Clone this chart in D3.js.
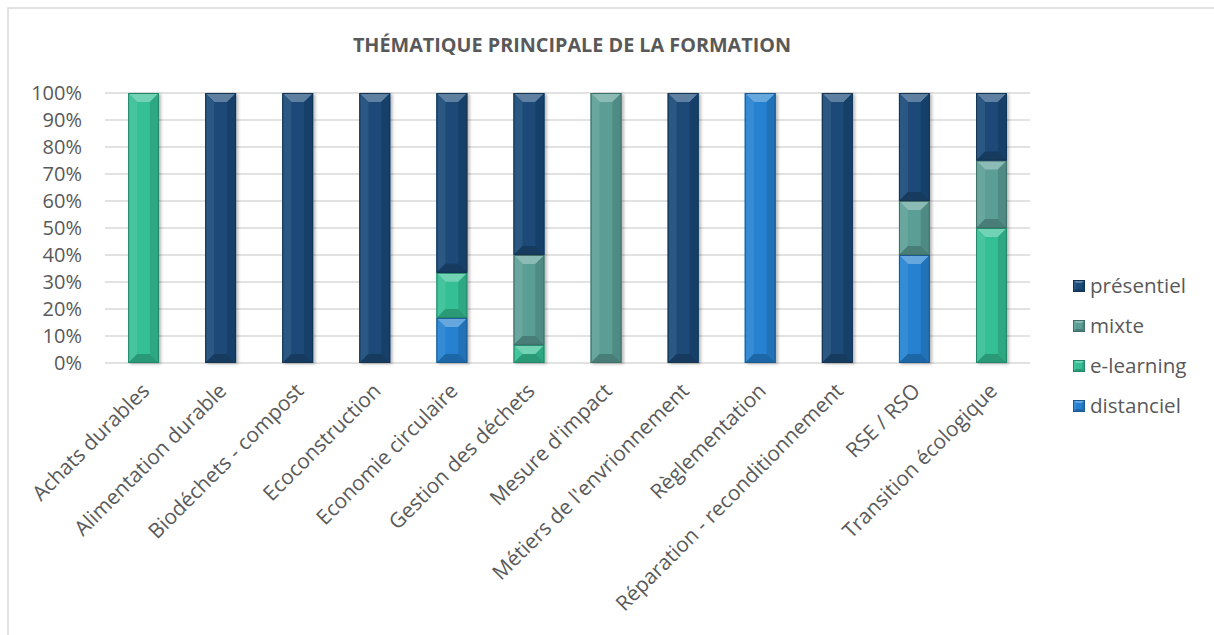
<!DOCTYPE html>
<html>
<head>
<meta charset="utf-8">
<script src="https://cdn.jsdelivr.net/npm/d3@7"></script>
<style>
	html, body { margin: 0; padding: 0; background: #fff; }
	svg { display: block; font-family: "Open Sans", sans-serif; }
</style>
</head>
<body>
<div id="chart"></div>
<script>
const categories = [
	"Achats durables", "Alimentation durable", "Biodéchets - compost", "Ecoconstruction",
	"Economie circulaire", "Gestion des déchets", "Mesure d'impact", "Métiers de l'envrionnement",
	"Règlementation", "Réparation - reconditionnement", "RSE / RSO", "Transition écologique"
];
// shares in %, stacked bottom to top: distanciel, e-learning, mixte, présentiel
const distanciel = [0, 0, 0, 0, 16.7, 0, 0, 0, 100, 0, 40, 0];
const elearning = [100, 0, 0, 0, 16.7, 6.7, 0, 0, 0, 0, 0, 50];
const mixte = [0, 0, 0, 0, 0, 33.3, 100, 0, 0, 0, 20, 25];
const presentiel = [0, 100, 100, 100, 66.6, 60, 0, 100, 0, 100, 40, 25];
const yTicks = [0, 10, 20, 30, 40, 50, 60, 70, 80, 90, 100];

const series = [
	{ name: "distanciel", values: distanciel, color: "#2581d0" },
	{ name: "e-learning", values: elearning, color: "#34bf94" },
	{ name: "mixte", values: mixte, color: "#5a9e96" },
	{ name: "présentiel", values: presentiel, color: "#1a4a77" }
];

const W = 1214, H = 635;
const plot = { left: 105, right: 1030, top: 93, bottom: 363 };

const svg = d3.select("#chart").append("svg")
	.attr("width", W)
	.attr("height", H);

const defs = svg.append("defs");
const shadow = defs.append("filter").attr("id", "shadow")
	.attr("x", "-30%").attr("y", "-10%").attr("width", "160%").attr("height", "120%");
shadow.append("feDropShadow")
	.attr("dx", 2).attr("dy", 1).attr("stdDeviation", 1.6)
	.attr("flood-color", "#000").attr("flood-opacity", 0.28);

// chart frame (right/bottom edges fall outside the picture)
svg.append("rect")
	.attr("x", 8).attr("y", 8)
	.attr("width", W + 20).attr("height", H + 20)
	.attr("fill", "none")
	.attr("stroke", "#d9d9d9")
	.attr("stroke-width", 1.5);

svg.append("text")
	.attr("x", 572).attr("y", 52)
	.attr("text-anchor", "middle")
	.attr("font-weight", "bold")
	.attr("font-size", 19.8)
	.attr("fill", "#595959")
	.text("THÉMATIQUE PRINCIPALE DE LA FORMATION");

const x = d3.scaleBand()
	.domain(categories)
	.range([plot.left, plot.right])
	.paddingInner(0.6)
	.paddingOuter(0.3);

const y = d3.scaleLinear()
	.domain([0, 100])
	.range([plot.bottom, plot.top]);

// gridlines
svg.append("g")
	.selectAll("line")
	.data(yTicks)
	.join("line")
	.attr("x1", plot.left).attr("x2", plot.right)
	.attr("y1", d => y(d)).attr("y2", d => y(d))
	.attr("stroke", "#d9d9d9")
	.attr("stroke-width", 1.5);

// y axis labels
svg.append("g")
	.selectAll("text")
	.data(yTicks)
	.join("text")
	.attr("x", 82)
	.attr("y", d => y(d))
	.attr("dy", "0.36em")
	.attr("text-anchor", "end")
	.attr("font-size", 20)
	.attr("fill", "#595959")
	.text(d => d + "%");

function shade(c, k) {
	return k > 0 ? d3.interpolateRgb(c, "#ffffff")(k) : d3.interpolateRgb(c, "#000000")(-k);
}

// one bevelled block, Excel style
function bevel(g, bx, by, w, h, color, b) {
	b = Math.min(b, h / 2, w / 2 - 2);
	g.append("rect")
		.attr("x", bx).attr("y", by).attr("width", w).attr("height", h)
		.attr("fill", color);
	// top facet
	g.append("polygon")
		.attr("points", [[bx, by], [bx + w, by], [bx + w - b, by + b], [bx + b, by + b]].join(" "))
		.attr("fill", shade(color, 0.3));
	// left facet
	g.append("polygon")
		.attr("points", [[bx, by], [bx + b, by + b], [bx + b, by + h - b], [bx, by + h]].join(" "))
		.attr("fill", shade(color, 0.08));
	// right facet
	g.append("polygon")
		.attr("points", [[bx + w, by], [bx + w - b, by + b], [bx + w - b, by + h - b], [bx + w, by + h]].join(" "))
		.attr("fill", shade(color, -0.12));
	// bottom facet
	g.append("polygon")
		.attr("points", [[bx, by + h], [bx + w, by + h], [bx + w - b, by + h - b], [bx + b, by + h - b]].join(" "))
		.attr("fill", shade(color, -0.2));
	g.append("rect")
		.attr("x", bx + 0.5).attr("y", by + 0.5).attr("width", w - 1).attr("height", h - 1)
		.attr("fill", "none")
		.attr("stroke", shade(color, -0.3))
		.attr("stroke-width", 1);
}

const stacked = d3.stack()
	.keys(series.map(s => s.name))
	.value((d, key) => series.find(s => s.name === key).values[d])(d3.range(categories.length));

const bars = svg.append("g").attr("filter", "url(#shadow)");
stacked.forEach((layer, si) => {
	layer.forEach((seg, i) => {
		if (seg[1] - seg[0] <= 0) return;
		const y0 = y(seg[0]), y1 = y(seg[1]);
		bevel(bars.append("g"), x(categories[i]), y1, x.bandwidth(), y0 - y1, series[si].color, 9);
	});
});

// x labels
svg.append("g")
	.selectAll("text")
	.data(categories)
	.join("text")
	.attr("transform", d => `translate(${x(d) + x.bandwidth() / 2 + 2},${plot.bottom + 24}) rotate(-45)`)
	.attr("dy", "0.35em")
	.attr("text-anchor", "end")
	.attr("font-size", 20.8)
	.attr("fill", "#595959")
	.text(d => d);

// legend, top item is présentiel
const legend = svg.append("g");
series.slice().reverse().forEach((s, i) => {
	const ly = 286 + i * 40;
	const g = legend.append("g");
	bevel(g, 1073, ly - 6, 12, 12, s.color, 3);
	legend.append("text")
		.attr("x", 1090).attr("y", ly)
		.attr("dy", "0.36em")
		.attr("font-size", 20.6)
		.attr("fill", "#595959")
		.text(s.name);
});
</script>
</body>
</html>
